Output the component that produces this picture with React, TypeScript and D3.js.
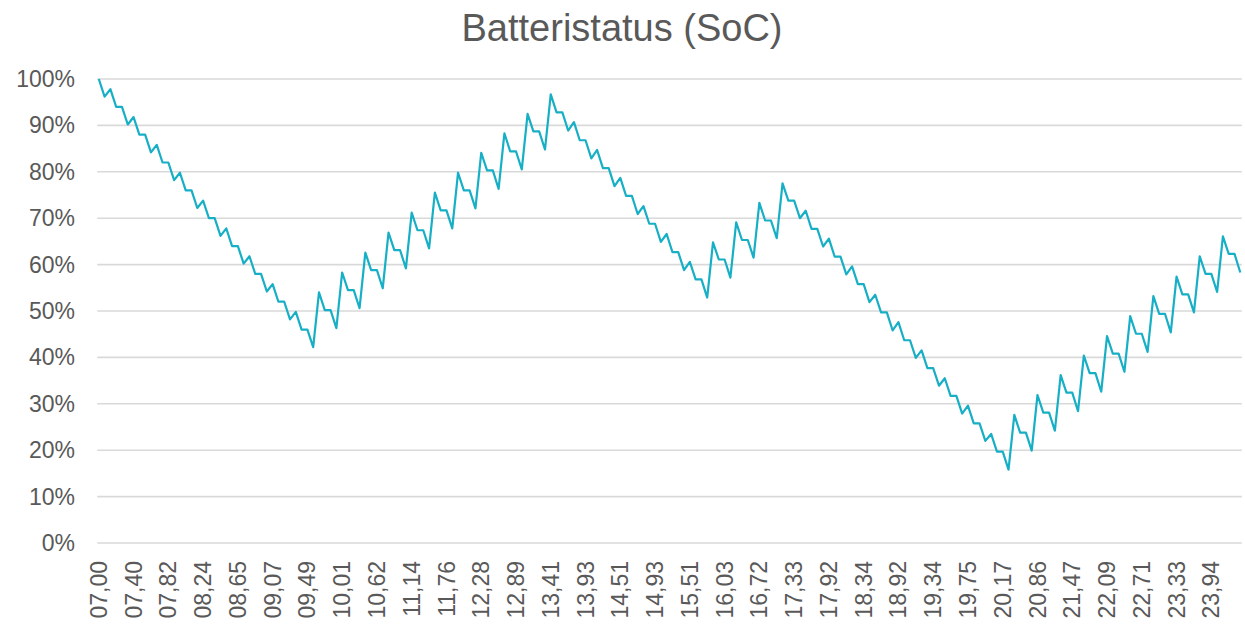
import React from "react";
import * as d3 from "d3";

const socValues: number[] = [
  100, 96.2, 97.8, 94, 94, 90.2, 91.8, 88, 88, 84.2,
  85.8, 82, 82, 78.2, 79.8, 76, 76, 72.2, 73.8, 70,
  70, 66.2, 67.8, 64, 64, 60.2, 61.8, 58, 58, 54.2,
  55.8, 52, 52, 48.2, 49.8, 46, 46, 42.2, 54.0, 50.2,
  50.2, 46.3, 58.3, 54.5, 54.5, 50.6, 62.6, 58.8, 58.8, 54.9,
  66.9, 63.1, 63.1, 59.2, 71.2, 67.4, 67.4, 63.5, 75.5, 71.7,
  71.7, 67.8, 79.8, 76.0, 76.0, 72.1, 84.1, 80.3, 80.3, 76.3,
  88.3, 84.4, 84.4, 80.5, 92.5, 88.7, 88.7, 84.8, 96.7, 92.8,
  92.8, 88.9, 90.7, 86.8, 86.8, 82.9, 84.7, 80.8, 80.8, 76.9,
  78.7, 74.8, 74.8, 70.9, 72.6, 68.8, 68.8, 64.9, 66.6, 62.7,
  62.7, 58.8, 60.6, 56.8, 56.8, 52.9, 64.8, 61.1, 61.1, 57.2,
  69.1, 65.3, 65.3, 61.5, 73.3, 69.5, 69.5, 65.7, 77.5, 73.8,
  73.8, 70.0, 71.6, 67.7, 67.7, 63.9, 65.6, 61.7, 61.7, 57.9,
  59.6, 55.8, 55.8, 51.9, 53.5, 49.7, 49.7, 45.8, 47.6, 43.7,
  43.7, 39.9, 41.5, 37.7, 37.7, 33.9, 35.5, 31.7, 31.7, 27.9,
  29.6, 25.8, 25.8, 22.0, 23.5, 19.7, 19.7, 15.8, 27.6, 23.8,
  23.8, 19.9, 31.9, 28.1, 28.1, 24.2, 36.2, 32.4, 32.4, 28.4,
  40.4, 36.6, 36.6, 32.6, 44.6, 40.8, 40.8, 36.9, 48.9, 45.1,
  45.1, 41.2, 53.2, 49.4, 49.4, 45.4, 57.4, 53.6, 53.6, 49.7,
  61.8, 58.0, 58.0, 54.1, 66.1, 62.3, 62.3, 58.3,
];

const tickLabels: string[] = [
  "07,00", "07,40", "07,82", "08,24", "08,65", "09,07", "09,49", "10,01",
  "10,62", "11,14", "11,76", "12,28", "12,89", "13,41", "13,93", "14,51",
  "14,93", "15,51", "16,03", "16,72", "17,33", "17,92", "18,34", "18,92",
  "19,34", "19,75", "20,17", "20,86", "21,47", "22,09", "22,71", "23,33",
  "23,94",
];
const labelEvery = 6;

const yTicks: number[] = [0, 10, 20, 30, 40, 50, 60, 70, 80, 90, 100];

const title = "Batteristatus (SoC)";

const W = 1245;
const H = 628;
const FONT = "'Liberation Sans', Arial, sans-serif";
const TEXT = "#595959";
const GRID = "#D9D9D9";
const LINE = "#17AFC5";

export default function App() {
  const left = 98.8;
  const right = 1240.3;
  const top = 79;
  const bottom = 543;

  const x = d3
    .scalePoint<number>()
    .domain(d3.range(socValues.length))
    .range([left, right]);
  const y = d3.scaleLinear().domain([0, 100]).range([bottom, top]);

  const line = d3
    .line<number>()
    .x((_, i) => x(i) as number)
    .y((d) => y(d));

  return (
    <svg
      width={W}
      height={H}
      style={{ position: "fixed", left: 0, top: 0, display: "block", background: "#fff" }}
      fontFamily={FONT}
    >
      <rect x={0} y={0} width={W} height={H} fill="#fff" />
      <text x={622} y={41} textAnchor="middle" fontSize={38} fill={TEXT}>
        {title}
      </text>
      {yTicks.map((t) => (
        <g key={t}>
          <line
            x1={left - 1.5}
            x2={right + 1.5}
            y1={y(t)}
            y2={y(t)}
            stroke={GRID}
            strokeWidth={1.6}
          />
          <text
            x={75}
            y={y(t)}
            dy="0.35em"
            textAnchor="end"
            fontSize={23}
            fill={TEXT}
          >
            {t}%
          </text>
        </g>
      ))}
      <path
        d={line(socValues) || ""}
        fill="none"
        stroke={LINE}
        strokeWidth={2.2}
        strokeLinejoin="round"
      />
      {tickLabels.map((lab, i) => {
        const px = x(i * labelEvery) as number;
        return (
          <text
            key={lab}
            transform={`translate(${px},561) rotate(-90)`}
            dy="0.35em"
            textAnchor="end"
            fontSize={23}
            fill={TEXT}
          >
            {lab}
          </text>
        );
      })}
    </svg>
  );
}
